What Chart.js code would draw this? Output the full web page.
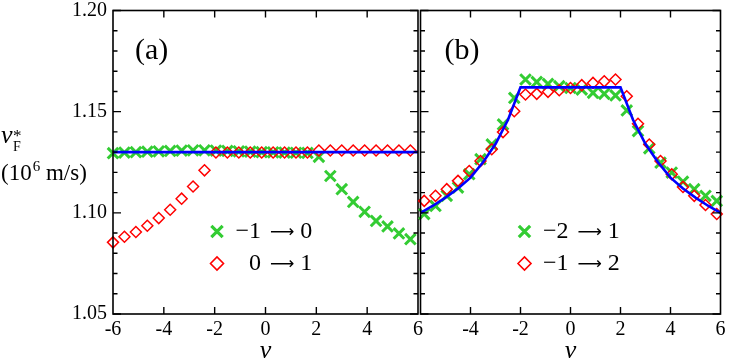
<!DOCTYPE html>
<html>
<head>
<meta charset="utf-8">
<title>v_F* vs nu</title>
<script src="https://cdn.jsdelivr.net/npm/chart.js@4.4.1/dist/chart.umd.min.js"></script>
<style>
  html, body { margin: 0; padding: 0; background: #fff; }
  #wrap { position: relative; width: 731px; height: 363px; overflow: hidden; }
  canvas { position: absolute; top: 0; }
  #left { left: 0; }
  #right { left: 410px; }
</style>
</head>
<body>
<div id="wrap">
  <canvas id="left" width="430" height="363"></canvas>
  <canvas id="right" width="321" height="363"></canvas>
</div>
<script>
// filling factor nu for each panel
const nuA = [-6, -5.55, -5.1, -4.65, -4.2, -3.75, -3.3, -2.85, -2.4, -1.95, -1.5, -1.05, -0.6, -0.15,
  0.3, 0.75, 1.2, 1.65, 2.1, 2.55, 3, 3.45, 3.9, 4.35, 4.8, 5.25, 5.7];
const nuB = [-5.85, -5.4, -4.95, -4.5, -4.05, -3.6, -3.15, -2.7, -2.25, -1.8, -1.35, -0.9, -0.45, 0,
  0.45, 0.9, 1.35, 1.8, 2.25, 2.7, 3.15, 3.6, 4.05, 4.5, 4.95, 5.4, 5.85];

// panel (a): -1 -> 0 (green), 0 -> 1 (red)
const greenA = [1.1295, 1.1298, 1.1300, 1.1302, 1.1304, 1.1306, 1.1308, 1.1309, 1.1309, 1.1308, 1.1306,
  1.1304, 1.1302, 1.1300, 1.1299, 1.1298, 1.1297, 1.1296, 1.1277, 1.1182, 1.1117, 1.1054, 1.1005,
  1.0960, 1.0933, 1.0898, 1.0870];
const redA = [1.0854, 1.0882, 1.0905, 1.0936, 1.0974, 1.1015, 1.1070, 1.1130, 1.1210, 1.1298, 1.1298,
  1.1298, 1.1298, 1.1298, 1.1298, 1.1298, 1.1298, 1.1298, 1.1308, 1.1308, 1.1308, 1.1308, 1.1308,
  1.1308, 1.1308, 1.1308, 1.1308];
const lineNuA = [-6, 6];
const lineA = [1.13, 1.13];

// panel (b): -2 -> 1 (green), -1 -> 2 (red)
const greenB = [1.0994, 1.1034, 1.1084, 1.1125, 1.1191, 1.1265, 1.1338, 1.1437, 1.1568, 1.1659, 1.1647,
  1.1637, 1.1626, 1.1617, 1.1609, 1.1593, 1.1588, 1.1580, 1.1506, 1.1404, 1.1319, 1.1248, 1.1199,
  1.1154, 1.1117, 1.1084, 1.1059];
const redB = [1.1059, 1.1084, 1.1117, 1.1158, 1.1207, 1.1256, 1.1314, 1.1399, 1.1502, 1.1585, 1.1588,
  1.1598, 1.1606, 1.1617, 1.1631, 1.1642, 1.1650, 1.1659, 1.1576, 1.1440, 1.1338, 1.1256, 1.1191,
  1.1128, 1.1084, 1.1039, 1.0994];
const lineNuB = [-6, -5.5, -5, -4.5, -4, -3.5, -3, -2.5, -2, 2, 2.5, 3, 3.5, 4, 4.5, 5, 5.5, 6];
const lineB = [1.100, 1.1035, 1.1075, 1.112, 1.1174, 1.125, 1.134, 1.146, 1.162, 1.162, 1.146, 1.134,
  1.125, 1.1174, 1.112, 1.1075, 1.1035, 1.100];

// axes
const xTicks = [-6, -4, -2, 0, 2, 4, 6];
const yMajor = [1.05, 1.10, 1.15, 1.20];
const yMinor = [1.06, 1.07, 1.08, 1.09, 1.11, 1.12, 1.13, 1.14, 1.16, 1.17, 1.18, 1.19];

// legend labels
const legendA = { from: ['\u22121', '0'], to: ['0', '1'] };
const legendB = { from: ['\u22122', '\u22121'], to: ['1', '2'] };

const GREEN = '#33cc33';
const RED = '#ff0000';
const BLUE = '#0000ff';
const SERIF = '"Liberation Serif", "Times New Roman", serif';
const ARROWFONT = '"DejaVu Sans", sans-serif';

const pts = (xs, ys) => xs.map((x, i) => ({ x, y: ys[i] }));

// box with inward ticks on all four sides
const framePlugin = {
  id: 'frame',
  afterDatasetsDraw(chart) {
    const { ctx, chartArea: a, scales: { x, y } } = chart;
    ctx.save();
    ctx.strokeStyle = '#000';
    ctx.lineWidth = 1.6;
    ctx.strokeRect(a.left, a.top, a.width, a.height);
    ctx.lineWidth = 1.4;
    ctx.beginPath();
    xTicks.forEach(v => {
      if (v <= x.min || v >= x.max) return;
      const px = x.getPixelForValue(v);
      ctx.moveTo(px, a.bottom); ctx.lineTo(px, a.bottom - 7);
      ctx.moveTo(px, a.top); ctx.lineTo(px, a.top + 7);
    });
    const yTick = (v, len) => {
      const py = y.getPixelForValue(v);
      ctx.moveTo(a.left, py); ctx.lineTo(a.left + len, py);
      ctx.moveTo(a.right, py); ctx.lineTo(a.right - len, py);
    };
    yMajor.forEach(v => yTick(v, 8));
    yMinor.forEach(v => yTick(v, 4.5));
    ctx.stroke();
    ctx.restore();
  }
};

// panel label, nu title, legend, y title
const decoPlugin = {
  id: 'deco',
  afterDraw(chart, args, opts) {
    const { ctx, chartArea: a } = chart;
    ctx.save();
    ctx.fillStyle = '#000';
    ctx.textBaseline = 'alphabetic';

    ctx.font = `30px ${SERIF}`;
    ctx.textAlign = 'left';
    ctx.fillText(opts.panel, a.left + opts.panelX, a.top + 48);

    ctx.font = `italic 26px ${SERIF}`;
    ctx.textAlign = 'center';
    ctx.fillText('\u03bd', (a.left + a.right) / 2, a.bottom + 44);

    const lg = opts.legend;
    lg.from.forEach((f, i) => {
      const yy = a.top + 221 + i * 32;
      const cross = i === 0;
      ctx.save();
      ctx.strokeStyle = cross ? GREEN : RED;
      ctx.fillStyle = 'rgba(0,0,0,0)';
      ctx.lineWidth = cross ? 3.2 : 1.6;
      Chart.helpers.drawPoint(ctx, {
        pointStyle: cross ? 'crossRot' : 'rectRot',
        radius: cross ? 8 : 6.5,
        borderWidth: cross ? 3.2 : 1.6,
        rotation: 0
      }, a.left + 104, yy);
      ctx.restore();

      const base = yy + 6;
      const arrowX = a.left + 157;
      ctx.font = `24px ${SERIF}`;
      ctx.textAlign = 'right';
      ctx.fillText(f, arrowX - 9, base);
      ctx.textAlign = 'left';
      ctx.font = `17px ${ARROWFONT}`;
      ctx.fillText('\u27f6', arrowX, base - 1);
      const aw = ctx.measureText('\u27f6').width;
      ctx.font = `24px ${SERIF}`;
      ctx.fillText(lg.to[i], arrowX + aw + 6, base);
    });

    if (opts.yTitle) {
      ctx.textAlign = 'left';
      ctx.font = `italic 26px ${SERIF}`;
      ctx.fillText('v', 1, 143);
      ctx.font = `17px ${SERIF}`;
      ctx.fillText('*', 13, 141);
      ctx.font = `14px ${SERIF}`;
      ctx.fillText('F', 13, 151);
      let x0 = 1;
      ctx.font = `23px ${SERIF}`;
      ctx.fillText('(10', x0, 180);
      x0 += ctx.measureText('(10').width;
      ctx.font = `15px ${SERIF}`;
      ctx.fillText('6', x0 + 1, 171);
      x0 += ctx.measureText('6').width + 1;
      ctx.font = `23px ${SERIF}`;
      ctx.fillText(' m/s)', x0, 180);
    }
    ctx.restore();
  }
};

function makeChart(id, cfg) {
  const datasets = [
    {
      label: 'theory', data: pts(cfg.lineNu, cfg.line), showLine: true,
      borderColor: BLUE, borderWidth: 2.6, pointRadius: 0, tension: 0, clip: false
    },
    {
      label: 'red', data: pts(cfg.nu, cfg.red), showLine: false,
      pointStyle: 'rectRot', pointRadius: 5.5, pointBorderWidth: 1.5,
      pointBorderColor: RED, pointBackgroundColor: 'rgba(0,0,0,0)', clip: false
    },
    {
      label: 'green', data: pts(cfg.nu, cfg.green), showLine: false,
      pointStyle: 'crossRot', pointRadius: 7.5, pointBorderWidth: 3,
      pointBorderColor: GREEN, pointBackgroundColor: GREEN, clip: false
    }
  ];

  return new Chart(document.getElementById(id), {
    type: 'scatter',
    data: { datasets },
    options: {
      responsive: false,
      animation: false,
      devicePixelRatio: 1,
      layout: { padding: cfg.padding },
      plugins: {
        legend: { display: false },
        tooltip: { enabled: false },
        deco: cfg.deco
      },
      scales: {
        x: {
          type: 'linear', min: -6, max: 6,
          afterBuildTicks: s => { s.ticks = xTicks.map(v => ({ value: v })); },
          afterFit: s => { s.height = 49; s.paddingLeft = 0; s.paddingRight = 0; },
          grid: { display: false, drawTicks: false },
          border: { display: false },
          ticks: {
            autoSkip: false, maxRotation: 0, padding: 4, color: '#000',
            font: { family: SERIF, size: 20 },
            callback: v => (cfg.hideFirst && v === -6) ? '' : String(v)
          }
        },
        y: {
          type: 'linear', min: 1.05, max: 1.20, display: cfg.showY,
          afterBuildTicks: s => { s.ticks = yMajor.map(v => ({ value: v })); },
          afterFit: s => { s.width = cfg.showY ? 113 : 0; s.paddingTop = 0; s.paddingBottom = 0; },
          grid: { display: false, drawTicks: false },
          border: { display: false },
          ticks: {
            padding: 6, color: '#000',
            font: { family: SERIF, size: 20 },
            callback: v => v.toFixed(2)
          }
        }
      }
    },
    plugins: [framePlugin, decoPlugin]
  });
}

makeChart('left', {
  nu: nuA, green: greenA, red: redA, lineNu: lineNuA, line: lineA,
  padding: { top: 9, right: 12, bottom: 0, left: 0 },
  showY: true, hideFirst: false,
  deco: { panel: '(a)', panelX: 22, legend: legendA, yTitle: true }
});

makeChart('right', {
  nu: nuB, green: greenB, red: redB, lineNu: lineNuB, line: lineB,
  padding: { top: 9, right: 6, bottom: 0, left: 8 },
  showY: false, hideFirst: true,
  deco: { panel: '(b)', panelX: 24, legend: legendB, yTitle: false }
});
</script>
</body>
</html>
